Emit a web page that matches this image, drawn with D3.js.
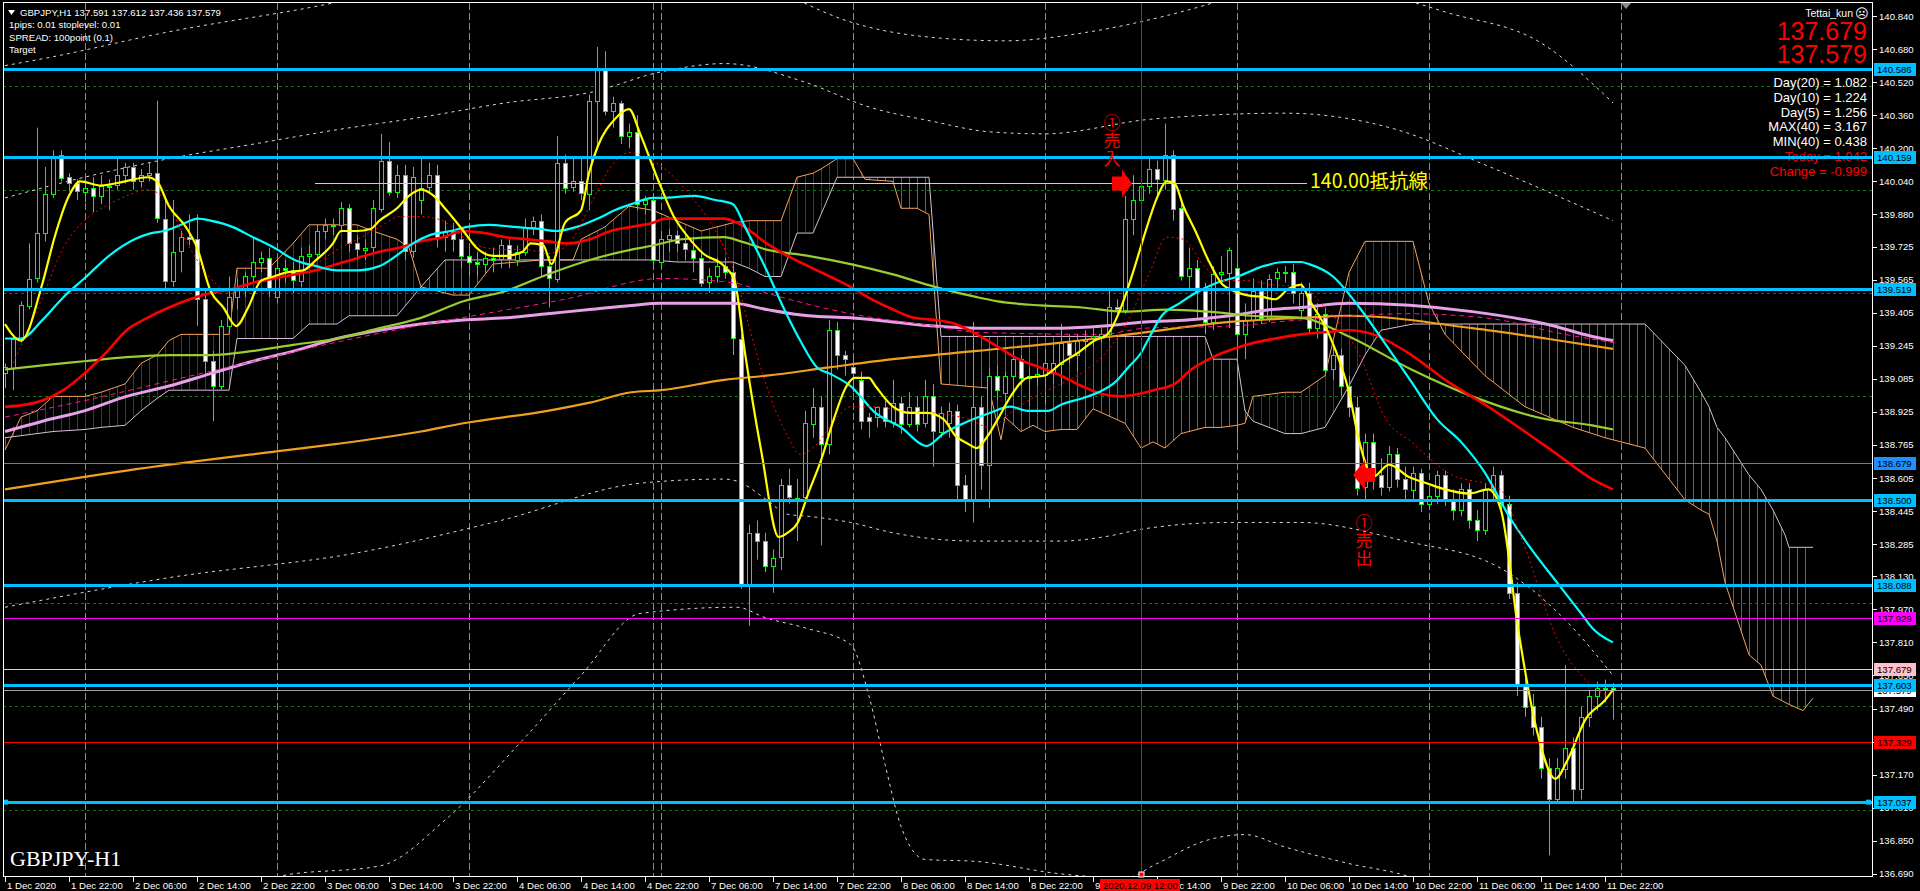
<!DOCTYPE html>
<html><head><meta charset="utf-8">
<script src="https://cdn.jsdelivr.net/npm/d3@7"></script>
<style>body{margin:0;background:#000;overflow:hidden}svg{display:block}</style>
</head><body><svg id="c" width="1920" height="891"></svg>
<script>
// ---------------- DATA ----------------
const opens=[139.11,139.14,139.28,139.44,139.57,139.79,139.98,140.17,140.06,140.03,139.99,140.01,139.97,140.02,140.02,140.07,140.11,140.04,140.07,140.08,139.86,139.56,139.70,139.77,139.76,139.47,139.17,139.05,139.34,139.48,139.52,139.58,139.65,139.67,139.48,139.62,139.61,139.56,139.68,139.69,139.80,139.83,139.83,139.91,139.74,139.71,139.72,139.91,140.14,139.99,140.07,139.70,139.95,140.01,140.07,139.77,139.80,139.76,139.68,139.65,139.64,139.67,139.66,139.73,139.66,139.70,139.82,139.85,139.63,139.57,140.13,140.01,140.04,139.98,140.43,140.59,140.38,140.42,140.26,140.28,139.93,139.95,139.65,139.76,139.78,139.74,139.71,139.67,139.55,139.58,139.63,139.60,139.28,138.09,138.34,138.30,138.18,138.22,138.57,138.51,138.51,138.87,138.95,138.77,139.32,139.20,139.14,139.08,138.90,138.90,138.95,138.88,138.97,138.87,138.95,138.87,139.00,138.83,138.87,138.93,138.57,138.50,138.95,138.67,139.10,139.02,139.10,139.18,139.09,139.10,139.10,139.11,139.16,139.26,139.20,139.27,139.28,139.29,139.30,139.43,139.42,139.86,139.95,140.02,140.10,140.05,140.17,139.91,139.58,139.62,139.51,139.36,139.59,139.60,139.62,139.30,139.37,139.51,139.38,139.57,139.60,139.60,139.42,139.50,139.33,139.40,139.13,139.20,139.05,138.95,138.56,138.78,138.62,138.56,138.72,138.60,138.55,138.63,138.48,138.52,138.62,138.50,138.45,138.55,138.40,138.35,138.55,138.62,138.48,138.05,137.60,137.50,137.40,137.20,137.05,137.20,137.30,137.10,137.45,137.55,137.59,137.591];
const highs=[139.16,139.30,139.46,139.74,140.30,140.11,140.19,140.19,140.08,140.05,140.06,140.06,140.07,140.05,140.16,140.13,140.13,140.10,140.13,140.43,139.95,139.95,139.80,139.88,139.88,139.51,139.22,139.37,139.58,139.57,139.60,139.77,139.70,139.72,139.66,139.66,139.65,139.72,139.73,139.83,139.86,139.86,139.94,139.93,139.78,139.76,139.95,140.27,140.23,140.12,140.12,140.11,140.15,140.13,140.12,139.85,139.84,139.80,139.73,139.70,139.70,139.72,139.76,139.76,139.73,139.86,139.87,139.88,139.68,140.26,140.17,140.16,140.15,140.46,140.69,140.67,140.45,140.43,140.32,140.36,139.97,139.98,139.80,139.81,139.80,139.78,139.77,139.70,139.62,139.67,139.67,139.65,139.30,138.38,138.40,138.34,138.26,138.60,138.65,138.60,138.93,139.04,139.00,139.37,139.36,139.22,139.18,139.12,138.92,138.95,138.98,139.08,139.00,139.02,139.00,139.08,139.06,138.95,138.97,138.96,138.62,139.36,139.00,139.14,139.15,139.12,139.22,139.20,139.14,139.14,139.23,139.25,139.35,139.30,139.30,139.32,139.33,139.33,139.51,139.47,139.97,140.07,140.08,140.15,140.14,140.32,140.19,139.96,139.72,139.66,139.55,139.63,139.68,139.72,139.78,139.45,139.57,139.56,139.59,139.62,139.63,139.64,139.55,139.55,139.45,139.43,139.24,139.23,139.10,139.00,138.82,138.82,138.70,138.76,138.75,138.66,138.66,138.65,138.56,138.64,138.64,138.55,138.58,138.58,138.45,138.58,138.66,138.64,138.52,138.10,137.68,137.56,137.45,137.25,137.25,137.70,137.35,137.50,137.58,137.62,137.63,137.612];
const lows=[139.04,139.03,139.26,139.42,139.55,139.75,139.96,140.04,139.99,139.95,139.94,139.89,139.93,139.90,140.00,140.03,140.00,140.01,140.04,139.84,139.51,139.53,139.60,139.73,139.34,139.10,138.88,139.03,139.32,139.42,139.48,139.55,139.60,139.48,139.45,139.55,139.50,139.53,139.62,139.67,139.76,139.78,139.80,139.70,139.66,139.66,139.70,139.89,139.97,139.96,139.66,139.67,139.88,139.98,139.72,139.70,139.70,139.62,139.58,139.58,139.60,139.60,139.62,139.62,139.63,139.68,139.78,139.58,139.43,139.55,139.98,139.99,139.95,139.90,140.20,140.36,140.30,140.22,140.20,139.90,139.88,139.62,139.62,139.70,139.70,139.66,139.60,139.53,139.50,139.55,139.57,139.20,138.07,137.89,138.21,138.15,138.05,138.16,138.48,138.30,138.48,138.80,138.28,138.72,139.13,139.10,139.02,138.84,138.80,138.85,138.85,138.85,138.82,138.85,138.83,138.85,138.66,138.80,138.80,138.50,138.44,138.39,138.55,138.46,138.98,138.98,139.00,139.05,138.95,139.05,138.96,139.06,139.05,139.16,139.12,139.22,139.24,139.26,139.27,139.38,139.40,139.78,139.85,139.98,139.97,140.00,139.85,139.56,139.52,139.38,139.30,139.32,139.55,139.33,138.77,139.18,139.33,139.35,139.36,139.52,139.55,139.45,139.38,139.30,139.28,139.10,139.08,139.00,138.90,138.52,138.50,138.55,138.52,138.54,138.56,138.50,138.50,138.44,138.45,138.48,138.47,138.40,138.42,138.36,138.30,138.33,138.50,138.45,138.02,137.55,137.45,137.36,137.15,136.78,137.03,137.15,137.04,137.05,137.40,137.48,137.52,137.436];
const closes=[139.14,139.28,139.44,139.57,139.79,139.98,140.16,140.06,140.03,139.99,140.01,139.97,140.02,140.02,140.07,140.11,140.04,140.07,140.08,139.86,139.56,139.70,139.77,139.76,139.47,139.17,139.05,139.34,139.48,139.52,139.58,139.65,139.67,139.52,139.62,139.61,139.56,139.68,139.69,139.80,139.83,139.83,139.91,139.74,139.71,139.72,139.91,140.14,139.99,140.07,139.70,140.06,140.01,140.07,139.77,139.80,139.76,139.68,139.65,139.64,139.67,139.66,139.73,139.66,139.70,139.82,139.85,139.63,139.57,140.13,140.01,140.04,139.98,140.43,140.59,140.38,140.42,140.26,140.28,139.93,139.95,139.66,139.76,139.78,139.74,139.71,139.67,139.55,139.58,139.63,139.60,139.28,138.09,138.34,138.30,138.18,138.22,138.57,138.51,138.51,138.87,138.95,138.77,139.32,139.20,139.18,139.11,138.88,138.88,138.95,138.88,138.97,138.87,138.95,138.87,139.00,138.83,138.92,138.93,138.57,138.50,138.95,138.67,139.10,139.03,139.10,139.18,139.09,139.10,139.11,139.16,139.16,139.26,139.20,139.27,139.28,139.29,139.30,139.43,139.42,139.86,139.95,140.02,140.10,140.05,140.17,139.91,139.58,139.62,139.51,139.36,139.59,139.60,139.71,139.30,139.37,139.51,139.38,139.57,139.60,139.60,139.50,139.50,139.33,139.40,139.13,139.20,139.05,138.95,138.56,138.78,138.62,138.56,138.72,138.60,138.55,138.63,138.48,138.52,138.62,138.50,138.45,138.55,138.40,138.35,138.55,138.62,138.48,138.05,137.60,137.50,137.40,137.20,137.05,137.20,137.30,137.10,137.45,137.55,137.59,137.59,137.579];

// moving averages / indicator lines: [barIndex, price]
const maYellow=[[0,139.35],[2,139.27],[4.7,139.55],[6.2,139.77],[8,139.97],[9.4,140.04],[12,140.02],[15,140.04],[17.8,140.06],[19,140.04],[20.5,139.92],[22.6,139.82],[24,139.72],[25.7,139.51],[27.3,139.43],[28.9,139.34],[30.4,139.43],[32,139.56],[33.6,139.58],[35.2,139.60],[37.3,139.61],[38.9,139.66],[41,139.74],[42,139.80],[44,139.80],[45.7,139.81],[46.8,139.85],[49,139.91],[50.5,139.97],[52,140.0],[53.6,139.97],[55.2,139.90],[57.3,139.80],[58.9,139.72],[61,139.68],[62.6,139.68],[64.7,139.70],[65.7,139.74],[67.3,139.73],[68.3,139.64],[70,139.84],[72,139.90],[73,140.08],[74.1,140.21],[76.2,140.34],[78,140.39],[79.4,140.27],[81.5,140.06],[83.6,139.87],[85.2,139.78],[87.3,139.69],[89.9,139.63],[91.2,139.56],[92.5,139.21],[94.6,138.72],[96.7,138.32],[97.8,138.34],[99.1,138.39],[100.4,138.53],[102,138.69],[103.6,138.89],[105.2,139.05],[106.2,139.09],[108,139.09],[108.8,139.05],[111,138.95],[113,138.92],[115.2,138.92],[117.3,138.89],[118.8,138.81],[120.4,138.77],[121.5,138.75],[122.5,138.79],[124.1,138.89],[125.7,139.0],[127.8,139.09],[129.9,139.10],[132,139.16],[134.1,139.21],[136.2,139.27],[137.8,139.30],[139.4,139.42],[141,139.60],[142.5,139.79],[144.1,139.97],[145.2,140.04],[146.2,140.03],[147.3,139.92],[148.8,139.80],[150.4,139.66],[152,139.55],[153.6,139.51],[155.2,139.49],[157.3,139.48],[158.8,139.47],[160.4,139.52],[162,139.54],[163,139.47],[165.5,139.30],[168,139.02],[169.3,138.78],[171,138.61],[173,138.67],[175.5,138.61],[177.7,138.58],[180,138.55],[183,138.53],[185.4,138.55],[187,138.45],[189.2,137.86],[191.5,137.38],[193.8,137.15],[195.3,137.24],[197.6,137.44],[200,137.53],[201,137.58]];
const maCyan=[[0,139.28],[2,139.28],[4.7,139.37],[7.3,139.48],[9.9,139.57],[13,139.68],[16.2,139.76],[18.3,139.79],[19.9,139.80],[22,139.83],[24.1,139.86],[25.7,139.85],[28.4,139.82],[31,139.77],[33.6,139.72],[36.2,139.66],[38.9,139.63],[41.5,139.61],[44.1,139.61],[46.8,139.63],[48.9,139.68],[51,139.74],[53.1,139.78],[55.7,139.80],[57.8,139.82],[60.5,139.83],[63.6,139.82],[66.8,139.81],[68.9,139.80],[71.5,139.82],[74.1,139.86],[76.2,139.90],[78.3,139.93],[81,139.96],[82,139.96],[86.2,139.97],[88.8,139.95],[91,139.93],[92.5,139.82],[95.2,139.61],[97.3,139.43],[99.4,139.27],[101.5,139.14],[103.1,139.11],[105.7,139.05],[108.8,138.92],[112,138.85],[115.2,138.76],[117.3,138.82],[120.4,138.88],[123.1,138.92],[125.7,138.95],[127.8,138.93],[130.4,138.93],[132,138.96],[134.6,138.99],[136.7,139.02],[138.8,139.07],[140.4,139.14],[142,139.21],[143.1,139.29],[144.6,139.39],[146.8,139.45],[148.8,139.50],[151.5,139.55],[154.1,139.58],[157.3,139.63],[159.9,139.65],[162,139.65],[163,139.64],[166,139.58],[169.3,139.43],[172.6,139.25],[175.8,139.07],[179,138.89],[182,138.78],[185,138.63],[188,138.42],[191,138.25],[194,138.10],[197,137.95],[198.4,137.88],[201,137.81]];
const maRed=[[0,138.95],[2.6,138.96],[4.7,138.98],[7.3,139.03],[9.9,139.11],[12.6,139.21],[15.2,139.32],[17.8,139.38],[20.5,139.43],[23.1,139.47],[25.7,139.50],[28.4,139.52],[31,139.55],[33.6,139.57],[36.2,139.59],[38.9,139.61],[41.5,139.64],[44.1,139.67],[46.8,139.70],[49.4,139.72],[52,139.75],[54.7,139.77],[57.3,139.80],[59.9,139.79],[62.6,139.77],[65.2,139.76],[67.8,139.75],[70.5,139.74],[73.1,139.76],[75.7,139.80],[78.3,139.82],[81,139.84],[82.5,139.86],[85.7,139.86],[89.9,139.86],[92,139.83],[95.2,139.74],[97.8,139.68],[100.4,139.63],[103.1,139.58],[105.7,139.53],[108.3,139.47],[111,139.42],[113.6,139.38],[116.2,139.37],[118.8,139.35],[121.5,139.30],[124.1,139.24],[126.7,139.18],[129.4,139.14],[132,139.10],[134.6,139.05],[137.3,139.01],[139.4,139.00],[141.5,139.01],[143.6,139.03],[146.2,139.06],[148.3,139.13],[151,139.19],[153.6,139.23],[156.2,139.26],[158.8,139.28],[162,139.30],[164.8,139.31],[168,139.32],[171,139.30],[175.8,139.20],[180.4,139.07],[185,138.96],[189.6,138.84],[194,138.72],[198.4,138.60],[201,138.55]];
const maOlive=[[0,139.13],[4.7,139.15],[9.9,139.17],[15.2,139.19],[20.5,139.20],[25.7,139.20],[31,139.22],[36.2,139.25],[41.5,139.28],[46.8,139.33],[52,139.38],[57.3,139.46],[62.6,139.51],[67.8,139.59],[73.1,139.66],[78.3,139.71],[81,139.73],[84.6,139.76],[89.9,139.77],[92,139.75],[95.2,139.71],[100.4,139.68],[105.7,139.64],[111,139.59],[116.2,139.53],[121.5,139.48],[124.1,139.46],[129.4,139.44],[134.6,139.43],[139.9,139.41],[145.2,139.42],[150.4,139.41],[155.7,139.39],[162,139.38],[168,139.29],[175.8,139.13],[183.4,139.0],[192.6,138.89],[198.4,138.86],[201,138.84]];
const maPlum=[[0,138.83],[4.7,138.88],[9.9,138.93],[15.2,139.00],[20.5,139.05],[25.7,139.11],[31,139.17],[36.2,139.22],[41.5,139.28],[46.8,139.32],[52,139.35],[57.3,139.37],[62.6,139.38],[67.8,139.40],[73.1,139.42],[78.3,139.44],[82,139.45],[91,139.45],[95.2,139.42],[100.4,139.39],[105.7,139.38],[111,139.36],[116.2,139.34],[121.5,139.33],[126.7,139.33],[132,139.33],[137.3,139.34],[142.5,139.36],[147.8,139.37],[153.1,139.39],[158.3,139.42],[162,139.43],[168,139.45],[183.4,139.41],[192.6,139.35],[198.4,139.29],[201,139.27]];
const maMagenta=[[0,138.90],[10,138.98],[20,139.07],[30,139.16],[40,139.25],[50,139.33],[60,139.40],[70,139.47],[82,139.57],[91,139.55],[95.2,139.50],[105.7,139.40],[116.2,139.34],[121.5,139.31],[137,139.30],[142.5,139.33],[153,139.34],[162,139.37],[175,139.40],[185,139.38],[195,139.30],[201,139.26]];
const maOrange=[[0,138.55],[15,138.64],[35.2,138.74],[41.5,138.77],[52,138.83],[57.3,138.87],[67.8,138.93],[73.1,138.97],[78.3,139.02],[82,139.03],[89.9,139.08],[95.2,139.10],[103,139.14],[111,139.18],[121.5,139.22],[132,139.26],[142.5,139.31],[153.1,139.36],[162,139.38],[168,139.39],[183.4,139.33],[192.6,139.28],[201,139.23]];
const maRedDash=[[1,139.16],[4.7,139.48],[7.3,139.72],[9.9,139.85],[12.6,139.92],[15.2,139.97],[17.8,140.0],[20.5,139.93],[22,139.80],[24,139.66],[26.2,139.55],[28.4,139.50],[31,139.55],[33.6,139.58],[36.2,139.59],[38.9,139.64],[41.5,139.71],[44.1,139.76],[46.8,139.82],[49.4,139.87],[52,139.87],[54.7,139.85],[57.3,139.77],[59.9,139.72],[62.6,139.71],[65.2,139.71],[67.8,139.69],[70.5,139.74],[73.1,139.92],[75.7,140.11],[78,140.18],[80,140.16],[82.5,140.10],[85.7,139.97],[88.8,139.80],[91.5,139.56],[93,139.34],[95.2,139.05],[97.8,138.81],[99.4,138.72],[101.5,138.77],[103.6,138.88],[105.7,138.95],[108.8,138.95],[112,138.93],[116.2,138.92],[120.4,138.89],[123.1,138.85],[125.7,138.92],[128.8,139.0],[132,139.06],[135.2,139.13],[137.8,139.22],[140.4,139.37],[143.1,139.60],[145.2,139.77],[147.3,139.76],[149.9,139.63],[152.5,139.56],[155.2,139.56],[158.3,139.54],[162,139.53],[164.8,139.44],[169.3,139.20],[172.6,138.89],[175.8,138.78],[180.4,138.63],[186.9,138.55],[189.6,138.31],[194,137.83],[198.4,137.60],[201,137.54]];

// envelope / band lines (dotted)
const bandUpper3=[[0,140.60],[5.6,140.64],[20,140.76],[40.6,140.90],[50,140.98]];
const bandUpper3m=[[96,140.98],[105,140.82],[115,140.74],[125,140.72],[135,140.76],[145,140.84],[155,140.95]];
const bandUpper3b=[[168,141.0],[180,140.86],[192,140.71],[201,140.42]];
const bandUpper2=[[0,139.96],[9.9,140.06],[20.5,140.15],[31,140.22],[41.5,140.29],[52,140.35],[62.6,140.42],[73.1,140.47],[82,140.57],[90,140.61],[100,140.52],[108,140.40],[116,140.33],[123,140.28],[130,140.27],[143,140.34],[160,140.37],[174,140.29],[185,140.12],[201,139.85]];
const bandLower2=[[0,137.98],[20,138.12],[45,138.25],[62,138.40],[79.4,138.58],[89.9,138.60],[91.5,138.59],[95.2,138.50],[97.8,138.43],[100.4,138.42],[105.7,138.39],[111,138.34],[116.2,138.31],[121.5,138.30],[132,138.30],[137.3,138.32],[142.5,138.36],[153,138.39],[162,138.39],[175,138.30],[186.9,138.17],[195,137.92],[201,137.65]];
const bandLower3=[[30,136.60],[34.5,136.68],[47,136.73],[55,136.95],[65,137.35],[72,137.65],[79.4,137.95],[91.5,137.98],[95,137.93],[100,137.88],[105.7,137.80],[108,137.55],[110,137.22],[112,136.92],[115,136.76],[121.5,136.75],[132,136.69],[140,136.67],[144,136.74],[150,136.85],[155,136.88],[160,136.82],[168,136.74],[176,136.67],[180,136.60]];

// Ichimoku cloud (same bar indices for both spans)
const cloudBars=[0,2,4,6,10,12,15,17,19,20.5,22,28,29,33,36,38,41.5,43,44,46,49,50.5,52,55,56,58,61,67,71,72,75,78,81,84,87,90,91,93,95,97,99,101,102,104,106,107.5,111,112,114,115.5,117,123,124.5,125,127,128.5,130,132,134,136,140,142,143.5,145,147,150,151,152,154,155,156,158,160,162,165,168,170,172,176,178,180,185,190,196,200,205,210,212,213,214,215,218,219.5,221,222.5,223,224.75,226];
const spanA=[138.74,138.90,138.93,139.00,139.00,139.02,139.06,139.16,139.20,139.27,139.30,139.30,139.62,139.62,139.74,139.83,139.83,139.83,139.83,139.80,139.76,139.72,139.53,139.50,139.49,139.49,139.64,139.66,139.66,139.76,139.82,139.92,139.90,139.85,139.80,139.83,139.84,139.85,139.85,139.85,140.06,140.08,140.10,140.15,140.15,140.05,140.04,139.91,139.91,139.88,139.06,139.04,138.79,138.90,138.83,138.86,138.83,138.84,138.84,138.94,138.87,138.75,138.78,138.75,138.82,138.85,138.85,138.85,138.86,138.87,139.00,139.01,139.02,139.02,139.10,139.60,139.75,139.75,139.75,139.45,139.30,139.10,138.95,138.85,138.80,138.75,138.50,138.45,138.43,138.30,138.10,137.75,137.70,137.55,137.52,137.51,137.48,137.54];
const spanB=[138.80,138.81,138.82,138.83,138.84,138.85,138.86,138.93,138.99,139.03,139.03,139.03,139.28,139.28,139.28,139.35,139.35,139.39,139.39,139.39,139.39,139.46,139.53,139.66,139.66,139.66,139.66,139.66,139.66,139.66,139.66,139.66,139.66,139.65,139.65,139.65,139.65,139.62,139.58,139.58,139.79,139.79,139.88,140.06,140.06,140.06,140.06,140.06,140.06,140.06,139.29,139.29,139.29,139.29,139.29,139.29,139.29,139.29,139.29,139.29,139.29,139.29,139.29,139.29,139.29,139.29,139.18,139.18,139.18,138.93,138.88,138.85,138.82,138.82,138.85,139.05,139.20,139.32,139.35,139.35,139.35,139.35,139.35,139.35,139.35,139.35,139.15,139.02,138.95,138.85,138.80,138.62,138.55,138.45,138.33,138.27,138.27,138.27];

// horizontal objects
const hLevels=[140.586,140.159,139.519,138.679,138.500,138.088,137.929,137.679,137.603,137.579,137.329,137.037];
const hColors=["#00bfff","#00bfff","#00bfff","#1e90ff","#00bfff","#00bfff","#ff00ff","#ffc0cb","#00bfff","#a0a0a0","#ff0000","#00bfff"];
const hWidths=[3,3,3,1,3,3,1,1,3,1,1,3];
const tagLevels=[140.586,140.159,139.519,138.679,138.500,138.088,137.929,137.679,137.579,137.603,137.329,137.037];
const tagColors=["#00bfff","#00bfff","#00bfff","#1e90ff","#00bfff","#00bfff","#ff00ff","#ffc0cb","#ffffff","#00bfff","#ff0000","#00bfff"];
const roundLevels=[140.5,140.0,139.5,139.0,138.5,138.0,137.5,137.0];
const separatorBars=[10,34,58,81,82,106,130,154,178,202];
const yTicks=[140.840,140.680,140.520,140.360,140.200,140.040,139.880,139.725,139.565,139.405,139.245,139.085,138.925,138.765,138.605,138.445,138.285,138.130,137.970,137.810,137.650,137.490,137.330,137.170,137.010,136.850,136.690];
const xTickBars=[0,8,16,24,32,40,48,56,64,72,80,88,96,104,112,120,128,136,144,152,160,168,176,184,192,200];
const xTickLabels=["1 Dec 2020","1 Dec 22:00","2 Dec 06:00","2 Dec 14:00","2 Dec 22:00","3 Dec 06:00","3 Dec 14:00","3 Dec 22:00","4 Dec 06:00","4 Dec 14:00","4 Dec 22:00","7 Dec 06:00","7 Dec 14:00","7 Dec 22:00","8 Dec 06:00","8 Dec 14:00","8 Dec 22:00","9 Dec 06:00","9 Dec 14:00","9 Dec 22:00","10 Dec 06:00","10 Dec 14:00","10 Dec 22:00","11 Dec 06:00","11 Dec 14:00","11 Dec 22:00"];
const resistFrom=38.75, resistTo=162.75, resistPrice=140.03;
const entryBar=142, entryPrice=140.03, exitBar=169.5, exitPrice=138.62;
const infoLines=["Day(20) = 1.082","Day(10) = 1.224","Day(5) = 1.256","MAX(40) = 3.167","MIN(40) = 0.438","Today = 1.942","Change = -0.999"];
const infoColors=["#fff","#fff","#fff","#fff","#fff","#ff0000","#ff0000"];
const headerLines=["GBPJPY,H1  137.591 137.612 137.436 137.579","1pips: 0.01  stoplevel: 0.01","SPREAD: 100point (0.1)","Target"];

// ---------------- DRAW ----------------
const svg=d3.select("#c");
const X0=3,X1=1873,Y0=3,Y1=877;
const x=d3.scaleLinear().domain([0,233]).range([5,5+233*8]);
const y=d3.scaleLinear().domain([136.675,140.903]).range([877,3]);
const SANS="'Liberation Sans', Arial, sans-serif";
const CJK="'Noto Sans CJK JP', 'Noto Sans', sans-serif";

svg.append("rect").attr("width",1920).attr("height",891).attr("fill","#000");
const defs=svg.append("defs");
defs.append("clipPath").attr("id","clip").append("rect").attr("x",X0).attr("y",Y0).attr("width",X1-X0).attr("height",Y1-Y0);
function hatch(id,color){
  const p=defs.append("pattern").attr("id",id).attr("patternUnits","userSpaceOnUse")
    .attr("x",x(0)).attr("y",0).attr("width",8).attr("height",891);
  p.append("rect").attr("x",0).attr("y",0).attr("width",1).attr("height",891).attr("fill",color);
}
hatch("hb","#2c2ca8");
hatch("hr","#a8453c");

const g=svg.append("g").attr("clip-path","url(#clip)");
const cr=v=>Math.round(v)+0.5;

// round level dashed
g.selectAll(".rl").data(roundLevels).enter().append("line")
 .attr("x1",X0).attr("x2",X1).attr("y1",d=>cr(y(d))).attr("y2",d=>cr(y(d)))
 .attr("stroke","#0a7a0a").attr("stroke-dasharray","3,3");
// separators
g.selectAll(".sep").data(separatorBars).enter().append("line")
 .attr("x1",d=>cr(x(d))).attr("x2",d=>cr(x(d))).attr("y1",Y0).attr("y2",Y1)
 .attr("stroke","#8a8a8a").attr("stroke-dasharray","7,3");

// cloud
const cloud=cloudBars.map((b,k)=>({b:b,a:spanA[k],s:spanB[k]}));
g.append("path").datum(cloud).attr("fill","url(#hb)")
 .attr("d",d3.area().x(d=>x(d.b)).y0(d=>y(d.s)).y1(d=>y(Math.max(d.a,d.s))));
g.append("path").datum(cloud).attr("fill","url(#hr)")
 .attr("d",d3.area().x(d=>x(d.b)).y0(d=>y(d.a)).y1(d=>y(Math.max(d.a,d.s))));
g.append("path").datum(cloud).attr("fill","none").attr("stroke","#f4a460").attr("stroke-width",1)
 .attr("d",d3.line().x(d=>x(d.b)).y(d=>y(d.a)));
g.append("path").datum(cloud).attr("fill","none").attr("stroke","#d8bfd8").attr("stroke-width",1)
 .attr("d",d3.line().x(d=>x(d.b)).y(d=>y(d.s)));

// bands
const lineGen=d3.line().x(d=>x(d[0])).y(d=>y(d[1])).curve(d3.curveMonotoneX);
[bandUpper3,bandUpper3m,bandUpper3b,bandUpper2,bandLower2,bandLower3].forEach(b=>{
  g.append("path").datum(b).attr("fill","none").attr("stroke","#d8d8d8").attr("stroke-width",1)
   .attr("stroke-dasharray","3,4").attr("d",lineGen);
});

// candles
const bars=opens.map((o,i)=>({i:i,o:o,h:highs[i],l:lows[i],c:closes[i]}));
const cg=g.append("g");
cg.selectAll(".wk").data(bars).enter().append("line")
 .attr("x1",d=>x(d.i)+0.5).attr("x2",d=>x(d.i)+0.5).attr("y1",d=>y(d.h)).attr("y2",d=>y(d.l))
 .attr("stroke","#00ff00").attr("stroke-width",1);
cg.selectAll(".bd").data(bars).enter().append("rect")
 .attr("x",d=>x(d.i)-1.5).attr("width",4)
 .attr("y",d=>Math.round(y(Math.max(d.o,d.c)))+0.5)
 .attr("height",d=>Math.max(1,Math.round(Math.abs(y(d.o)-y(d.c)))))
 .attr("fill",d=>d.c>=d.o?"#000":"#fff").attr("stroke","#00ff00").attr("stroke-width",1);

// MAs
function ma(data,color,w,dash){
  const p=g.append("path").datum(data).attr("fill","none").attr("stroke",color).attr("stroke-width",w).attr("d",lineGen);
  if(dash) p.attr("stroke-dasharray",dash);
}
ma(maOrange,"#f0a020",2.2);
ma(maPlum,"#e8a0e8",3);
ma(maMagenta,"#ff1493",1,"5,4");
ma(maOlive,"#9acd32",2.2);
ma(maRed,"#ff0000",2.6);
ma(maCyan,"#00ffff",2.2);
ma(maRedDash,"#ff0000",1,"2,3");
ma(maYellow,"#ffff00",2.2);

// resistance line
g.append("line").attr("x1",x(resistFrom)).attr("x2",x(resistTo))
 .attr("y1",cr(y(resistPrice))).attr("y2",cr(y(resistPrice))).attr("stroke","#e8e800").attr("stroke-width",1);
// red vertical
g.append("line").attr("x1",cr(x(entryBar))).attr("x2",cr(x(entryBar))).attr("y1",Y0).attr("y2",Y1)
 .attr("stroke","#ff0000").attr("stroke-width",1);

// info text (right top)
const info=svg.append("g").attr("font-family",SANS).attr("text-anchor","end");
info.append("text").attr("x",1853).attr("y",17).attr("fill","#fff").attr("font-size",10.5).text("Tettai_kun");
svg.append("text").attr("x",1855).attr("y",18).attr("fill","#fff").attr("font-size",13).attr("font-family","DejaVu Sans").text("\u2639");
info.append("text").attr("x",1867).attr("y",40).attr("fill","#ff0000").attr("font-size",25).text("137.679");
info.append("text").attr("x",1867).attr("y",63).attr("fill","#ff0000").attr("font-size",25).text("137.579");
info.selectAll(".il").data(infoLines).enter().append("text").attr("class","il")
 .attr("x",1867).attr("y",(d,k)=>87+k*14.75).attr("fill",(d,k)=>infoColors[k]).attr("font-size",13).text(d=>d);

// horizontal lines (objects)
const hl=svg.append("g").attr("clip-path","url(#clip)");
hLevels.forEach((v,k)=>{
  const yy=hWidths[k]%2===1?cr(y(v)):Math.round(y(v));
  hl.append("line").attr("x1",X0).attr("x2",X1).attr("y1",yy).attr("y2",yy)
    .attr("stroke",hColors[k]).attr("stroke-width",hWidths[k]);
});
hl.append("rect").attr("x",x(0)-2).attr("y",y(137.037)-2.5).attr("width",5).attr("height",5).attr("fill","#00bfff");
hl.append("rect").attr("x",1866).attr("y",y(137.037)-2.5).attr("width",5).attr("height",5).attr("fill","#00bfff");

// annotations
const ann=svg.append("g");
const ex=x(entryBar), ey=y(entryPrice);
ann.append("path").attr("fill","#ff0000")
 .attr("d",`M${ex-29},${ey-7}H${ex-19}V${ey-14}L${ex-9},${ey}L${ex-19},${ey+14}V${ey+7}H${ex-29}Z`);
["\u2460","\u58f2","\u5165"].forEach((t,k)=>{
  ann.append("text").attr("x",ex-29).attr("y",ey-62+k*18).attr("fill","#ff0000").attr("font-size",17)
   .attr("font-family",CJK).attr("text-anchor","middle").attr("dominant-baseline","central").text(t);
});
const qx=x(exitBar), qy=y(exitPrice);
ann.append("path").attr("fill","#ff0000")
 .attr("d",`M${qx+14},${qy-7}H${qx+4}V${qy-15}L${qx-8},${qy}L${qx+4},${qy+15}V${qy+7}H${qx+14}Z`);
["\u2460","\u58f2","\u51fa"].forEach((t,k)=>{
  ann.append("text").attr("x",qx+3).attr("y",qy+47+k*18).attr("fill","#ff0000").attr("font-size",17)
   .attr("font-family",CJK).attr("text-anchor","middle").attr("dominant-baseline","central").text(t);
});
ann.append("text").attr("x",x(resistTo)+3).attr("y",y(resistPrice)+5).attr("fill","#ffff00")
 .attr("font-size",19.5).attr("font-family",CJK).text("140.00\u62b5\u6297\u7dda");

// header text
const hd=svg.append("g").attr("font-family",SANS).attr("font-size",9.6).attr("fill","#fff");
hd.append("path").attr("d","M8,10H15L11.5,15Z").attr("fill","#fff");
headerLines.forEach((t,k)=>{
  hd.append("text").attr("x",k===0?20:9).attr("y",16+k*12.4).text(t);
});
svg.append("text").attr("x",10).attr("y",866).attr("fill","#fff").attr("font-size",22)
 .attr("font-family","'Liberation Serif', 'Times New Roman', serif").text("GBPJPY-H1");

// chart shift marker
svg.append("path").attr("d","M1621,3H1631L1626,9Z").attr("fill","#8a8a8a");

// frame
svg.append("rect").attr("x",X0+0.5).attr("y",Y0-0.5).attr("width",X1-X0-1).attr("height",Y1-Y0)
 .attr("fill","none").attr("stroke","#ffffff").attr("stroke-width",1);

// y axis
const ya=svg.append("g").attr("font-family",SANS).attr("font-size",9.6).attr("fill","#fff");
yTicks.forEach(v=>{
  ya.append("line").attr("x1",X1).attr("x2",X1+4).attr("y1",cr(y(v))).attr("y2",cr(y(v))).attr("stroke","#fff");
  ya.append("text").attr("x",X1+6).attr("y",y(v)+3.5).text(v.toFixed(3));
});
tagLevels.forEach((v,k)=>{
  ya.append("rect").attr("x",X1+1).attr("y",Math.round(y(v))-6).attr("width",42).attr("height",13).attr("fill",tagColors[k]);
  ya.append("text").attr("x",X1+4).attr("y",Math.round(y(v))+4).attr("fill","#000").text(v.toFixed(3));
});

// x axis
const xa=svg.append("g").attr("font-family",SANS).attr("font-size",9.6).attr("fill","#fff");
xTickBars.forEach((b,k)=>{
  xa.append("line").attr("x1",cr(x(b))).attr("x2",cr(x(b))).attr("y1",Y1).attr("y2",Y1+5).attr("stroke","#fff");
  xa.append("text").attr("x",x(b)+2).attr("y",889).text(xTickLabels[k]);
});
xa.append("rect").attr("x",x(entryBar)-41).attr("y",879).attr("width",80).attr("height",12).attr("fill","#ff0000");
xa.append("text").attr("x",x(entryBar)-38).attr("y",889).attr("fill","#000").text("2020.12.09 12:00");
xa.append("rect").attr("x",x(entryBar)-2).attr("y",872).attr("width",5).attr("height",5).attr("fill","#ff0000").attr("stroke","#fff");
</script></body></html>
